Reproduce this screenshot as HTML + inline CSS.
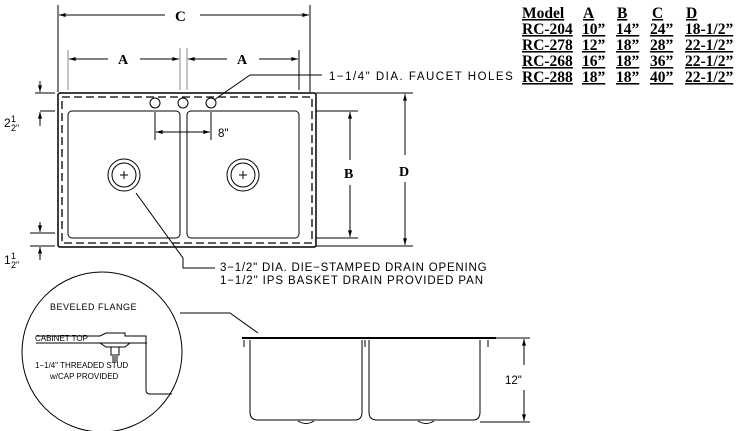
<!DOCTYPE html>
<html><head><style>
html,body{margin:0;padding:0;background:#fff;width:742px;height:431px;overflow:hidden}
text{font-family:"Liberation Sans",sans-serif}
.s,.s text{font-family:"Liberation Serif",serif;font-weight:bold}
</style></head><body>
<svg width="742" height="431" viewBox="0 0 742 431" xmlns="http://www.w3.org/2000/svg">
<defs><marker id="a" viewBox="0 0 10 6" refX="10" refY="3" markerWidth="8" markerHeight="4" orient="auto-start-reverse"><path d="M0,0L10,3L0,6z" fill="#000"/></marker></defs>
<g stroke="#000" fill="none" stroke-width="1">
<line x1="58" y1="5" x2="58" y2="92"/><line x1="310" y1="5" x2="310" y2="92"/>
<line x1="59" y1="15" x2="165" y2="15" marker-start="url(#a)"/><line x1="200" y1="15" x2="309" y2="15" marker-end="url(#a)"/>
<line x1="68" y1="50" x2="68" y2="90" stroke="#888"/><line x1="180" y1="48" x2="180" y2="90" stroke="#888"/><line x1="187" y1="48" x2="187" y2="90" stroke="#888"/><line x1="299" y1="50" x2="299" y2="90"/>
<line x1="69" y1="59" x2="108" y2="59" marker-start="url(#a)"/><line x1="140" y1="59" x2="179" y2="59" marker-end="url(#a)"/>
<line x1="188" y1="59" x2="227" y2="59" marker-start="url(#a)"/><line x1="259" y1="59" x2="298" y2="59" marker-end="url(#a)"/>
<rect x="58" y="93" width="258" height="154" rx="2" stroke-width="1.5"/>
<rect x="62" y="97" width="250" height="146" stroke-dasharray="8,4" stroke-width="1.3"/>
<rect x="68" y="111" width="112" height="127" rx="4"/>
<rect x="187" y="111" width="112" height="127" rx="4"/>
<circle cx="155" cy="103" r="5"/><circle cx="183" cy="103" r="5"/><circle cx="211" cy="103" r="5"/>
<circle cx="124" cy="175" r="16"/><circle cx="124" cy="175" r="12"/>
<circle cx="243" cy="175" r="16"/><circle cx="243" cy="175" r="12"/>
<path d="M120,175h8M124,171v8M239,175h8M243,171v8"/>
<line x1="155" y1="112" x2="155" y2="140"/><line x1="211" y1="112" x2="211" y2="140"/>
<line x1="156" y1="132" x2="210" y2="132" marker-start="url(#a)" marker-end="url(#a)"/>
<path d="M214,100L250,75H322"/>
<path d="M136,193L183,258V268H215"/>
<path d="M35,93H55M40,111H55M30,233H55M30,246H55"/>
<line x1="40" y1="81" x2="40" y2="92" marker-end="url(#a)"/><line x1="40" y1="126" x2="40" y2="112" marker-end="url(#a)"/>
<line x1="40" y1="222" x2="40" y2="232" marker-end="url(#a)"/><line x1="40" y1="260" x2="40" y2="247" marker-end="url(#a)"/>
<path d="M316,93H413M316,246H413M316,111H358M316,238H358"/>
<line x1="350" y1="160" x2="350" y2="112" marker-end="url(#a)"/><line x1="350" y1="185" x2="350" y2="237" marker-end="url(#a)"/>
<line x1="405" y1="155" x2="405" y2="94" marker-end="url(#a)"/><line x1="405" y1="182" x2="405" y2="245" marker-end="url(#a)"/>
<circle cx="102" cy="352" r="80"/>
<path d="M36,336H100L106,333H125V336H146V390Q146,394 150,394H172"/>
<path d="M36,343H147M100,343L106,347H125L130,343" />
<path d="M111,347v8h8v-8M112,357h6M112,359h6M112,361h6"/>
<path d="M180,313H230L258,333"/>
<path d="M242,338H496" stroke-width="2"/>
<path d="M244,340v7M488,340v7M365,340v7"/>
<path d="M250,340V412Q250,420 258,420H355Q362,420 362,412V340"/>
<path d="M369,340V412Q369,420 377,420H473Q480,420 480,412V340"/>
<path d="M298,421Q306,426 314,421M418,421Q426,426 434,421"/>
<path d="M496,338H530M480,422H530"/>
<line x1="524" y1="365" x2="524" y2="339" marker-end="url(#a)"/><line x1="524" y1="390" x2="524" y2="421" marker-end="url(#a)"/>
</g>
<g font-size="14" class="s">
<text x="175" y="21" font-size="15">C</text>
<text x="118" y="64">A</text><text x="237" y="64">A</text>
<text x="344" y="178">B</text><text x="399" y="176">D</text>
</g>
<g font-size="11.5" fill="#000">
<text x="329" y="80" letter-spacing="1.5">1−1/4" DIA. FAUCET HOLES</text>
<text x="220" y="271" letter-spacing="0.8">3−1/2" DIA. DIE−STAMPED DRAIN OPENING</text>
<text x="220" y="284" letter-spacing="0.9">1−1/2" IPS BASKET DRAIN PROVIDED PAN</text>
<text x="218" y="137">8"</text>
<text x="505" y="384">12"</text>
<text x="4" y="127" font-size="12">2</text><text x="11" y="122" font-size="9">1</text><text x="11" y="131" font-size="9">2"</text>
<text x="4" y="264" font-size="12">1</text><text x="11" y="259" font-size="9">1</text><text x="11" y="268" font-size="9">2"</text>
</g>
<g font-size="8" fill="#000">
<text x="50" y="310" font-size="9" letter-spacing="0.5">BEVELED FLANGE</text>
<text x="35" y="341">CABINET TOP</text>
<text x="35" y="368">1−1/4" THREADED STUD</text>
<text x="50" y="379">w/CAP PROVIDED</text>
</g>
<g class="s" font-size="15.5" fill="#000" text-decoration="underline">
<text x="522" y="18">Model</text><text x="583" y="18">A</text><text x="617" y="18">B</text><text x="652" y="18">C</text><text x="686" y="18">D</text>
<text x="522" y="34">RC-204</text><text x="582" y="34">10”</text><text x="616" y="34">14”</text><text x="650" y="34">24”</text><text x="685" y="34">18-1/2”</text>
<text x="522" y="50">RC-278</text><text x="582" y="50">12”</text><text x="616" y="50">18”</text><text x="650" y="50">28”</text><text x="685" y="50">22-1/2”</text>
<text x="522" y="66">RC-268</text><text x="582" y="66">16”</text><text x="616" y="66">18”</text><text x="650" y="66">36”</text><text x="685" y="66">22-1/2”</text>
<text x="522" y="82">RC-288</text><text x="582" y="82">18”</text><text x="616" y="82">18”</text><text x="650" y="82">40”</text><text x="685" y="82">22-1/2”</text>
</g>
</svg>
</body></html>
